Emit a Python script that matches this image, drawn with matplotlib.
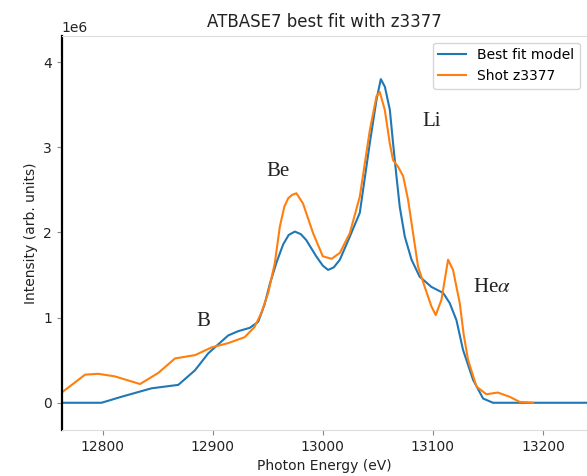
import matplotlib
matplotlib.use("Agg")
from matplotlib import pyplot as plt

# photon energy (eV) and intensity (1e6 arb. units)
x_fit = [12762.8, 12799, 12817, 12844.5, 12868.7, 12883.8, 12895.9, 12914, 12923,
         12933.7, 12941.3, 12947, 12952, 12958, 12964, 12969, 12974.6, 12980, 12985,
         12994, 13000, 13004.8, 13010, 13015.5, 13024.5, 13033.6, 13042.7, 13048.8,
         13052.7, 13056.4, 13060.9, 13063.8, 13066.9, 13069.9, 13074.5, 13080.6,
         13088, 13098.7, 13109.3, 13115.3, 13121.4, 13127.4, 13136.5, 13145.6,
         13154.6, 13240]
y_fit = [0.0, 0.0, 0.07, 0.17, 0.21, 0.38, 0.58, 0.79, 0.84,
         0.88, 0.95, 1.15, 1.40, 1.65, 1.86, 1.97, 2.01, 1.98, 1.91,
         1.72, 1.61, 1.56, 1.59, 1.68, 1.95, 2.23, 3.05, 3.56,
         3.80, 3.71, 3.44, 3.05, 2.66, 2.30, 1.95, 1.68,
         1.48, 1.36, 1.29, 1.17, 0.97, 0.62, 0.27, 0.05,
         0.0, 0.0]

x_shot = [12762.8, 12775, 12784, 12796, 12811, 12834, 12850.5, 12865.7, 12884, 12899,
          12914, 12929, 12938, 12944, 12950.4, 12956.4, 12961, 12965, 12968.5, 12972,
          12976, 12982, 12991.2, 13000, 13008, 13015.5, 13024.5, 13033.6, 13042.7,
          13048.8, 13051.7, 13056.3, 13060.8, 13063.8, 13068.4, 13073, 13077.5,
          13082, 13086.5, 13092.6, 13098.7, 13102.6, 13107.8, 13113.8, 13118.3,
          13124.4, 13128, 13132, 13139.6, 13148.6, 13159, 13169.8, 13178.9, 13191]
y_shot = [0.12, 0.24, 0.33, 0.34, 0.31, 0.22, 0.35, 0.52, 0.56, 0.65,
          0.70, 0.77, 0.89, 1.05, 1.29, 1.64, 2.07, 2.30, 2.40, 2.44,
          2.46, 2.34, 1.99, 1.72, 1.69, 1.76, 1.99, 2.42, 3.20,
          3.60, 3.65, 3.44, 3.05, 2.85, 2.77, 2.66, 2.38,
          1.99, 1.60, 1.36, 1.13, 1.03, 1.21, 1.68, 1.56,
          1.17, 0.80, 0.50, 0.19, 0.10, 0.12, 0.07, 0.01, 0.0]

lines = ["B", "Be", "Li", r"He$\alpha$"]
line_x = [12891, 12959, 13099, 13154]
line_y = [0.95, 2.71, 3.30, 1.35]

plt.rcParams["mathtext.fontset"] = "stix"

fig = plt.figure(figsize=(5.87, 4.76), dpi=100)
ax = fig.add_axes([0.1051, 0.0966, 0.8949, 0.8284])

ax.plot(x_fit, [v * 1e6 for v in y_fit], color="tab:blue", lw=1.5, label="Best fit model")
ax.plot(x_shot, [v * 1e6 for v in y_shot], color="tab:orange", lw=1.5, label="Shot z3377")

for name, lx, ly in zip(lines, line_x, line_y):
    ax.text(lx, ly * 1e6, name, family="Liberation Serif", fontsize=15,
            ha="center", va="center", color="#222222")

ax.set_xlim(12762.8, 13240)
ax.set_ylim(-0.32e6, 4.31e6)
ax.set_xticks([12800, 12900, 13000, 13100, 13200])
ax.set_yticks([0, 1e6, 2e6, 3e6, 4e6])

ax.spines["right"].set_visible(False)
ax.spines["top"].set_color("#dddddd")
ax.spines["bottom"].set_color("#dddddd")
ax.spines["left"].set_color("black")
ax.spines["left"].set_linewidth(1.6)
ax.tick_params(color="#888888", length=3.5, labelcolor="#222222")

ax.set_title("ATBASE7 best fit with z3377", color="#222222")
ax.set_xlabel("Photon Energy (eV)", color="#222222")
ax.set_ylabel("Intensity (arb. units)", color="#222222")
ax.legend(loc="upper right")

fig.savefig("out.png", dpi=100)
